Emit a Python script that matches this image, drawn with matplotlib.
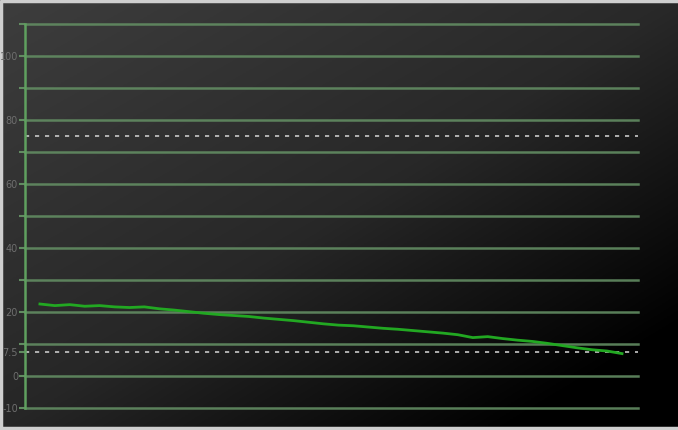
import numpy as np
import matplotlib
matplotlib.use('Agg')
import matplotlib.pyplot as plt

# chart values
sample = list(range(40))
level = [22.5, 22.0, 22.3, 21.8, 22.0, 21.6, 21.4, 21.6, 21.0, 20.6,
         20.1, 19.6, 19.2, 18.9, 18.6, 18.1, 17.7, 17.3, 16.8, 16.3,
         15.9, 15.7, 15.3, 14.9, 14.6, 14.2, 13.8, 13.4, 12.9, 12.0,
         12.3, 11.7, 11.2, 10.8, 10.2, 9.5, 8.8, 8.2, 7.8, 7.0]
grid_levels = [-10, 0, 10, 20, 30, 40, 50, 60, 70, 80, 90, 100, 110]
tick_values = [-10, 0, 7.5, 10, 20, 30, 40, 50, 60, 70, 80, 90, 100, 110]
tick_labels = ['-10', '0', '7.5', '', '20', '', '40', '', '60', '', '80', '', '100', '']
ref_levels = [75, 7.5]

W, H = 678, 430
fig = plt.figure(figsize=(W / 100, H / 100), dpi=100)

# background gradient: grey top-left fading to black bottom-right
bg = fig.add_axes([0, 0, 1, 1])
yy, xx = np.mgrid[0:1:200j, 0:1:300j]
shade = 0.24 - 0.08 * xx - 0.09 * yy - 0.12 * np.clip(xx + yy - 1.0, 0, None)
shade = np.clip(shade, 0, 1)
bg.imshow(np.dstack([shade] * 3), extent=[0, 1, 0, 1], aspect='auto', origin='upper')
bg.set_xlim(0, 1)
bg.set_ylim(0, 1)
bg.axis('off')
# thin light frame around the picture
bg.plot([0.002, 0.002, 0.998], [0.005, 0.997, 0.997], color='#cfcfcf', lw=2.5)
bg.plot([0.002, 0.998], [0.004, 0.004], color='#cfcfcf', lw=2.5)

ax = fig.add_axes([25 / W, 1 - 408 / H, (638 - 25) / W, (408 - 24) / H])
ax.patch.set_alpha(0)
ax.set_xlim(-1.0, 40.07)
ax.set_ylim(-10, 110)

for g in grid_levels:
    ax.axhline(g, color='#628c62', lw=1.8, alpha=0.9, zorder=1, clip_on=False)
for r in ref_levels:
    ax.axhline(r, color='#c8c8c8', lw=1.2, ls=(0, (2.5, 3.5)), zorder=2)

ax.plot(sample, level, color='#22a822', lw=2.0, zorder=3)

for side in ['top', 'right', 'bottom']:
    ax.spines[side].set_visible(False)
ax.spines['left'].set_color('#5fa05f')
ax.spines['left'].set_linewidth(1.8)
ax.set_xticks([])
ax.set_yticks(tick_values)
ax.set_yticklabels(tick_labels)
ax.tick_params(axis='y', colors='#628c62', length=4, width=1.5, pad=1,
               labelsize=7, labelcolor='#6e6e6e')

fig.savefig('out.png', dpi=100)
